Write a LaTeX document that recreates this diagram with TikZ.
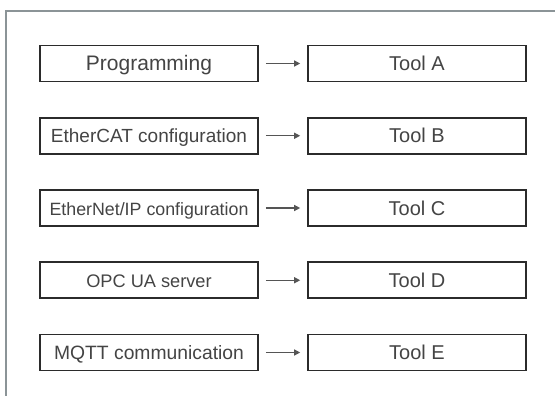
\documentclass[tikz,border=0pt]{standalone}
\usepackage{fontspec}
\setmainfont{Liberation Sans}
\usepackage{xcolor}
\usetikzlibrary{arrows, arrows.meta}

\definecolor{framegray}{HTML}{8B9497}
\definecolor{boxline}{HTML}{2B2B2B}
\definecolor{txtgray}{HTML}{444444}
\definecolor{arrowgray}{HTML}{555555}

\tikzset{
  box/.style={draw=boxline, line width=1.6pt, fill=white, text=txtgray,
    minimum width=218pt, minimum height=36pt, inner sep=0pt,
    text height=14pt, text depth=0pt},
  task/.style={box},
  tool/.style={box, font=\fontsize{20}{24}\selectfont},
  link/.style={-{Triangle[length=6pt,width=6pt]}, line width=1.3pt, color=arrowgray,
    shorten <=7pt, shorten >=7pt},
  frame/.style={line width=1.7pt, color=framegray}
}

\begin{document}
\begin{tikzpicture}[x=1pt,y=-1pt]
\useasboundingbox (0,0) rectangle (555,396);

% outer frame (only top and left edges show)
\draw[frame] (6,396)--(6,11)--(555,11);

%%%%%%%%%%%%%%%%%%%%%%%%%%%%%%%%%%%%%%%%
% what is done
\node[task, font=\fontsize{21}{24}\selectfont] (prog) at (149,63.5) {Programming};
\node[task, font=\fontsize{19}{22}\selectfont] (ecat) at (149,135.75) {EtherCAT configuration};
\node[task, font=\fontsize{17.8}{21}\selectfont] (eip) at (149,208) {EtherNet/IP configuration};
\node[task, font=\fontsize{18.2}{22}\selectfont] (opcua) at (149,280.25) {OPC UA server};
\node[task, font=\fontsize{19.3}{22}\selectfont] (mqtt) at (149,352.5) {MQTT communication};

%%%%%%%%%%%%%%%%%%%%%%%%%%%%%%%%%%%%%%%%
% with which tool
\node[tool] (toolA) at (417,63.5) {Tool A};
\node[tool] (toolB) at (417,135.75) {Tool B};
\node[tool] (toolC) at (417,208) {Tool C};
\node[tool] (toolD) at (417,280.25) {Tool D};
\node[tool] (toolE) at (417,352.5) {Tool E};

\draw[link] (prog)--(toolA);
\draw[link] (ecat)--(toolB);
\draw[link] (eip)--(toolC);
\draw[link] (opcua)--(toolD);
\draw[link] (mqtt)--(toolE);

\end{tikzpicture}
\end{document}
